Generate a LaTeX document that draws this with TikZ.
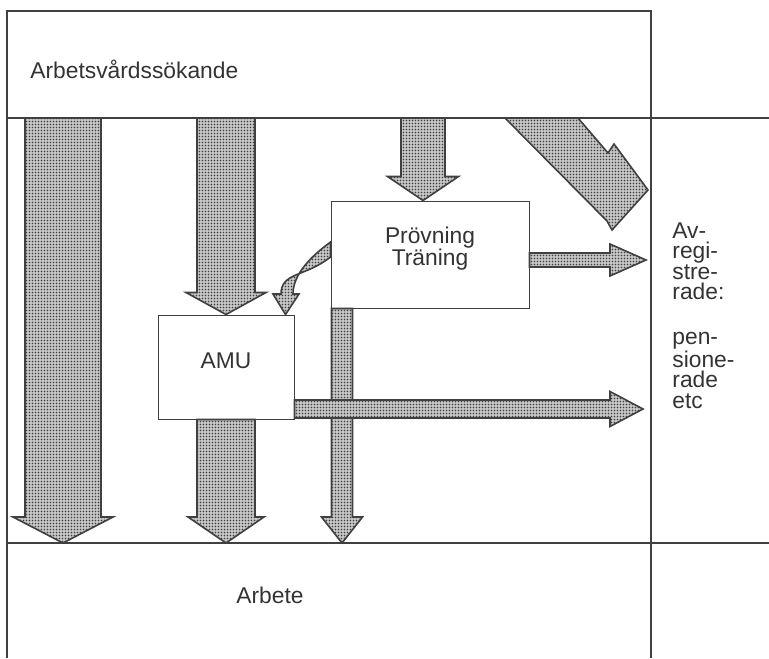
\documentclass[tikz,border=0pt]{standalone}
\usepackage{fontspec}
\setmainfont{Liberation Sans}
\usetikzlibrary{calc, patterns.meta}

\tikzdeclarepattern{
  name=raster, type=uncolored,
  bottom left={(0pt,0pt)}, top right={(1.7pt,1.7pt)},
  tile size={(1.7pt,1.7pt)},
  code={\fill (0.85pt,0.85pt) circle (0.5pt);}
}

% block arrow: from, to, half shaft, half head, head length
\newcommand{\fatarrow}[5]{%
  \path ($(#2)!#5!(#1)$) coordinate (hb);
  \draw[flow] ($(#1)!#3!90:(#2)$) -- ($(hb)!#3!90:(#2)$) -- ($(hb)!#4!90:(#2)$)
    -- (#2) -- ($(hb)!#4!-90:(#2)$) -- ($(hb)!#3!-90:(#2)$)
    -- ($(#1)!#3!-90:(#2)$) -- cycle;}

\begin{document}
\begin{tikzpicture}[x=0.5pt, y=-0.5pt,
    txt/.style={inner sep=0pt, text=black!80, font=\fontsize{11.4}{10.25}\selectfont},
    box/.style={draw=black!75, line width=0.5pt, fill=white, inner sep=0pt,
      text=black!80, align=center, font=\fontsize{11.4}{11}\selectfont},
    frame/.style={draw=black!75, line width=0.6pt},
    flow/.style={preaction={fill=black!22}, pattern=raster, pattern color=black!75,
      draw=black!75, line width=0.8pt, line join=miter}]
  \useasboundingbox (0,0) rectangle (769,658);

  % frame
  \coordinate (hdr) at (0,118);
  \coordinate (flr) at (0,543);
  \draw[frame] (7,658) -- (7,11) -- (651,11) -- (651,658);
  \draw[frame] (7,0 |- hdr) -- (769,0 |- hdr);
  \draw[frame] (7,0 |- flr) -- (769,0 |- flr);

  % texts and boxes
  \node[txt, anchor=base west] (sokande) at (30,79) {Arbetsvårdssökande};
  \node[txt, anchor=base] (arbete) at (270,603) {Arbete};
  \node[txt, anchor=north west, align=left] (avreg) at (672,222)
    {Av-\\regi-\\stre-\\rade:\\[12pt]pen-\\sione-\\rade\\etc};
  \node[box, minimum width=99pt, minimum height=53.5pt, text height=13.5pt,
    text depth=3pt] (provning) at (430,254.5) {Prövning\\Träning};
  \node[box, minimum width=68pt, minimum height=52pt, text height=8pt,
    text depth=7pt] (amu) at (226,367) {AMU};

  % flows
  \fatarrow{63,0 |- hdr}{63,0 |- flr}{19pt}{25pt}{13pt}
  \fatarrow{amu.north |- hdr}{amu.north}{14.5pt}{20pt}{11pt}
  \fatarrow{amu.south}{amu.south |- flr}{14.5pt}{19pt}{13pt}
  \fatarrow{423,0 |- hdr}{423,0 |- provning.north}{11pt}{17.75pt}{12pt}
  \fatarrow{342,0 |- provning.south}{342,0 |- flr}{5.25pt}{10.25pt}{13pt}
  \fatarrow{provning.east |- 0,260}{646,260}{3.5pt}{8pt}{18pt}
  \fatarrow{amu.east |- 0,409}{643,409}{4.5pt}{8.75pt}{16.5pt}
  \draw[flow] ($(provning.west)+(0,-12.5)$) .. controls +(-19,14) and +(0,-20) .. (293,294)
    -- (299,294) -- ($(amu.north east)+(-9,0)$) -- (273,294) -- (281,294)
    .. controls +(0,-22) and +(-25,20) .. ($(provning.west)+(0,2.5)$) -- cycle;
  \draw[flow] (505,0 |- hdr) -- (578,0 |- hdr) -- (608,153) -- (614,144) -- (648,190)
    -- (612,230) -- (607,221) -- cycle;
\end{tikzpicture}
\end{document}
